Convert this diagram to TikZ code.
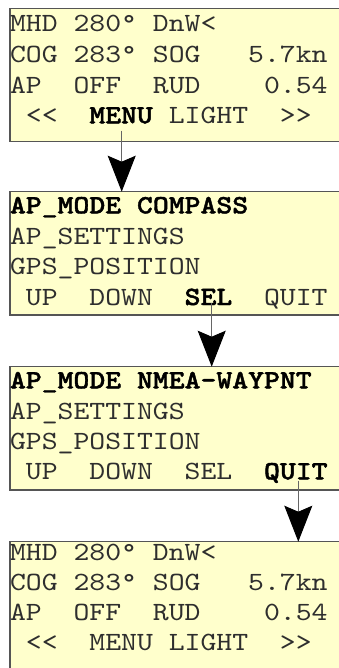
\documentclass[tikz,border=0pt]{standalone}
\usepackage{fontspec}
% typewriter face for the display, widened to the character pitch of the LCD
\newfontfamily\lcdfont{lmmono10-regular.otf}[
  BoldFont=lmmonolt10-bold.otf, BoldFeatures={FakeBold=1.6}, FakeStretch=1.15]
\usetikzlibrary{arrows.meta}
\definecolor{lcdfill}{HTML}{FFFFCC}
\definecolor{lcdedge}{HTML}{555555}
\definecolor{lcdtext}{HTML}{2E2E2E}
\definecolor{wire}{HTML}{666666}
% highlighted (selected) soft key on a display line
\newcommand{\lcdsel}[1]{{\bfseries\color{black}#1}}
\tikzset{
  screen/.style={draw=lcdedge, line width=1.3pt, fill=lcdfill, anchor=north west,
    minimum width=345pt, inner sep=0pt, outer sep=0pt},
  row/.style={anchor=base west, inner sep=0pt, outer sep=0pt,
    font=\lcdfont\fontsize{26.3}{30}\selectfont\frenchspacing, text=lcdtext},
  flow/.style={draw=wire, line width=1pt,
    -{Stealth[length=36pt, width=28pt, inset=6pt, color=black]}},
}
\begin{document}
\begin{tikzpicture}[x=1pt, y=-1pt]
  \useasboundingbox (0,0) rectangle (339,668);
  \clip (0,0) rectangle (339,668);

  % display screens
  \node[screen, minimum height=133.2pt] (b1) at (10,8.5) {};
  \node[screen, minimum height=123.3pt] (b2) at (10,191.7) {};
  \node[screen, minimum height=123.3pt] (b3) at (10,366.7) {};
  \node[screen, minimum height=140pt]   (b4) at (10,541.7) {};

  % main status screen
  \node[row] (b1r1) at (10,31.7)  {MHD~280°~DnW<};
  \node[row] (b1r2) at (10,62.5)  {COG~283°~SOG~~~5.7kn};
  \node[row] (b1r3) at (10,93.3)  {AP~~OFF~~RUD~~~~0.54};
  \node[row] (b1r4) at (10,123.3) {~<{}<~~\lcdsel{MENU}~LIGHT~~>{}>};

  % menu, compass mode
  \node[row] (b2r1) at (10,213.3) {\lcdsel{AP\_MODE~COMPASS}};
  \node[row] (b2r2) at (10,244)   {AP\_SETTINGS};
  \node[row] (b2r3) at (10,274.5) {GPS\_POSITION};
  \node[row] (b2r4) at (10,305)   {~UP~~DOWN~~\lcdsel{SEL}~~QUIT};

  % menu, waypoint mode
  \node[row] (b3r1) at (10,388.3) {\lcdsel{AP\_MODE~NMEA-WAYPNT}};
  \node[row] (b3r2) at (10,419)   {AP\_SETTINGS};
  \node[row] (b3r3) at (10,449.3) {GPS\_POSITION};
  \node[row] (b3r4) at (10,479.3) {~UP~~DOWN~~SEL~~\lcdsel{QUIT}};

  % back to the status screen
  \node[row] (b4r1) at (10,560)   {MHD~280°~DnW<};
  \node[row] (b4r2) at (10,590)   {COG~283°~SOG~~~5.7kn};
  \node[row] (b4r3) at (10,620.7) {AP~~OFF~~RUD~~~~0.54};
  \node[row] (b4r4) at (10,650.7) {~<{}<~~MENU~LIGHT~~>{}>};

  % key presses leading from screen to screen
  \coordinate (k1) at (121.7,130.7);
  \coordinate (k2) at (211.7,303);
  \coordinate (k3) at (298.3,480.7);
  \draw[flow] (k1) -- (b2.north -| k1);
  \draw[flow] (k2) -- (b3.north -| k2);
  \draw[flow] (k3) -- (b4.north -| k3);
\end{tikzpicture}
\end{document}
